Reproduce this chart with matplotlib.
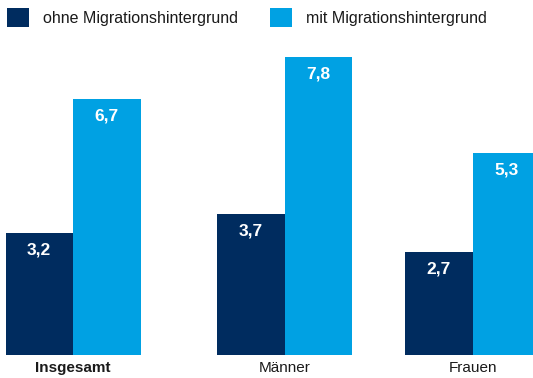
import matplotlib
matplotlib.use("Agg")
import matplotlib.pyplot as plt
from matplotlib.patches import Rectangle

categories = ["Insgesamt", "Männer", "Frauen"]
series_names = ["ohne Migrationshintergrund", "mit Migrationshintergrund"]
ohne = [3.2, 3.7, 2.7]
mit = [6.7, 7.8, 5.3]

DARK = "#002C5F"
LIGHT = "#00A1E3"
TEXT = "#1a1a1a"

plt.rcParams["font.family"] = ["Liberation Sans", "DejaVu Sans"]

W, H = 533, 378
fig = plt.figure(figsize=(W / 100, H / 100), dpi=100)

# plotting area: baseline 23 px above the bottom, x in pixel units
base_px = 23
ax = fig.add_axes([0, base_px / H, 1, (H - base_px) / H])
px_per_unit = 38.2
ax.set_xlim(0, W)
ax.set_ylim(0, (H - base_px) / px_per_unit)
ax.axis("off")

centers = [73, 284.5, 472.5]
bw = 67.5

for c, a, b in zip(centers, ohne, mit):
    ax.bar(c - bw / 2, a, width=bw, color=DARK, linewidth=0)
    ax.bar(c + bw / 2, b, width=bw, color=LIGHT, linewidth=0)
    for xpos, v in ((c - bw / 2, a), (c + bw / 2, b)):
        ax.annotate(f"{v:.1f}".replace(".", ","), xy=(xpos, v),
                    xytext=(0, -17), textcoords="offset pixels",
                    ha="center", va="center", color="white",
                    fontsize=12.5, fontweight="bold")

# category labels under each group
for i, (c, name) in enumerate(zip(centers, categories)):
    fig.text(c / W, 1 - 368 / H, name, ha="center", va="center",
             fontsize=11, color=TEXT,
             fontweight="bold" if i == 0 else "normal")

# legend
for x0, col, name in ((7, DARK, series_names[0]), (270, LIGHT, series_names[1])):
    fig.patches.append(Rectangle((x0 / W, 1 - 27 / H), 22 / W, 19 / H,
                                 transform=fig.transFigure, color=col,
                                 linewidth=0))
    fig.text((x0 + 36) / W, 1 - 18 / H, name, ha="left", va="center",
             fontsize=11.5, color=TEXT)

fig.savefig("out.png", dpi=100)
